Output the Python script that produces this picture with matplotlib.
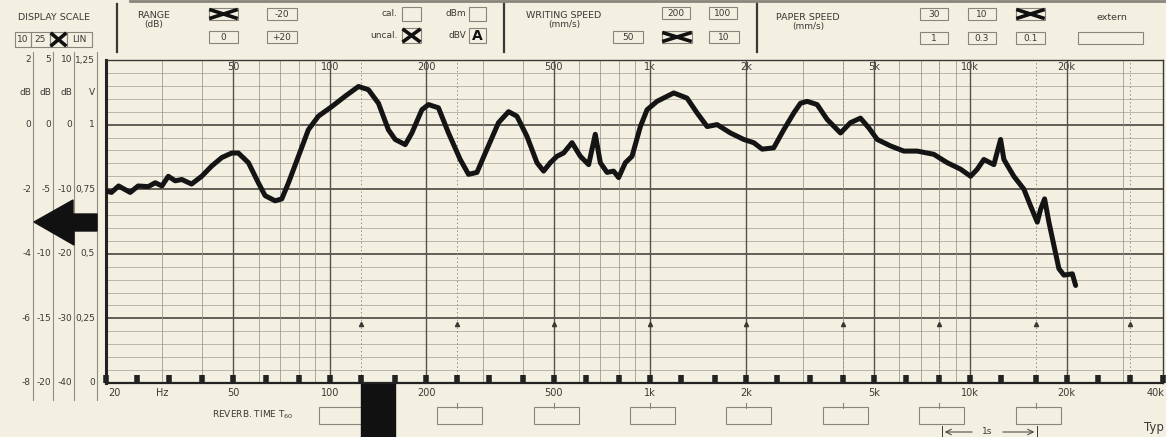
"""Level recorder chart: frequency response on B&K style log paper."""

import matplotlib.pyplot as plt
import numpy as np
from matplotlib.patches import Rectangle, Polygon
from matplotlib.transforms import blended_transform_factory

PAPER = "#f3efe1"
INK = "#3a3935"
GRID = "#8f8c82"
BOX = "#8a857a"

freq_hz = [20.1, 20.8, 21.9, 23.8, 25.2, 27.1, 28.5, 29.9, 31.3, 32.9, 34.5, 37.0,
           39.8, 42.8, 46.0, 49.4, 51.8, 55.7, 59.8, 62.8, 67.5, 70.8, 74.3, 79.8,
           85.7, 92.1, 101.5, 111.7, 122.9, 132.0, 141.9, 152.4, 160, 172, 180.4,
           193.9, 203.3, 218.4, 234.8, 255.4, 271.2, 288.1, 309.6, 336.4, 361.6,
           384.0, 412.6, 443.6, 465.2, 488.2, 512.2, 537.2, 570.6, 605.8, 643.2,
           674.6, 699.6, 734.2, 769.6, 798, 837.4, 878.8, 933, 979, 1052, 1186,
           1305, 1403, 1508, 1620, 1783, 1962, 2108, 2240, 2434, 2616, 2812, 2950,
           3096, 3326, 3574, 3934, 4227, 4542, 4822, 5124, 5637, 6202, 6830, 7696,
           8478, 9330, 10024, 10520, 11032, 11854, 12440, 12740, 13684, 14712,
           15436, 16196, 16588, 17072, 17610, 18254, 18922, 19618, 20840, 21340]
level_db = [-10.3, -10.5, -9.5, -10.5, -9.5, -9.6, -9.0, -9.5, -8.0, -8.7, -8.5, -9.2,
            -8.0, -6.4, -5.1, -4.4, -4.4, -5.9, -9.0, -11.0, -11.8, -11.5, -9.0, -4.9,
            -0.8, 1.3, 2.8, 4.4, 5.9, 5.4, 3.3, -0.8, -2.3, -3.1, -1.3,
            2.3, 3.1, 2.6, -1.3, -5.4, -7.7, -7.4, -3.8, 0.3, 2.0,
            1.3, -1.8, -5.9, -7.2, -5.9, -4.9, -4.4, -2.8, -4.9, -6.2,
            -1.5, -5.9, -7.4, -7.2, -8.2, -5.9, -4.9, -0.3, 2.3, 3.6, 4.9,
            4.1, 1.8, -0.3, 0.0, -1.3, -2.3, -2.8, -3.8, -3.6, -0.8, 1.8, 3.3,
            3.6, 3.1, 0.8, -1.3, 0.3, 1.0, -0.5, -2.3, -3.3, -4.1, -4.1, -4.6,
            -5.9, -6.9, -8.0, -6.9, -5.4, -6.2, -2.3, -5.4, -8.0, -10.0,
            -12.6, -15.1, -13.1, -11.5, -15.1, -18.7, -22.3, -23.3, -23.1, -24.9]

major_freqs = [20, 50, 100, 200, 500, 1000, 2000, 5000, 10000, 20000]
octave_freqs = [125, 250, 500, 1000, 2000, 4000, 8000, 16000, 31500]
third_octave_freqs = [20, 25, 31.5, 40, 50, 63, 80, 100, 125, 160, 200, 250, 315,
                      400, 500, 630, 800, 1000, 1250, 1600, 2000, 2500, 3150, 4000,
                      5000, 6300, 8000, 10000, 12500, 16000, 20000, 25000, 31500, 40000]
reverb_freqs = [250, 500, 1000, 2000, 4000, 8000, 16000]
top_ticks = [50, 100, 200, 500, 1000, 2000, 5000, 10000, 20000]
top_labels = ["50", "100", "200", "500", "1k", "2k", "5k", "10k", "20k"]
bottom_ticks = [50, 100, 200, 500, 1000, 2000, 5000, 10000, 20000]
bottom_labels = ["50", "100", "200", "500", "1k", "2k", "5k", "10k", "20k"]

scale_db = [10, 0, -10, -20, -30, -40]
col_10 = ["2", "0", "-2", "-4", "-6", "-8"]
col_25 = ["5", "0", "-5", "-10", "-15", "-20"]
col_50 = ["10", "0", "-10", "-20", "-30", "-40"]
col_lin = ["1,25", "1", "0,75", "0,5", "0,25", "0"]

W, H = 1166, 437
fig = plt.figure(figsize=(W / 100, H / 100), dpi=100, facecolor=PAPER)

# pixel-coordinate layer for the printed form
deco = fig.add_axes([0, 0, 1, 1])
deco.set_xlim(0, W)
deco.set_ylim(H, 0)
deco.axis("off")
deco.set_facecolor(PAPER)

ax = fig.add_axes([106 / W, (H - 383) / H, (1163 - 106) / W, 323 / H])
ax.set_facecolor("none")
ax.set_xscale("log")
ax.set_xlim(20, 40000)
ax.set_ylim(-40, 10)
ax.set_xticks([])
ax.set_yticks([])
ax.minorticks_off()
for side in ["top", "right"]:
    ax.spines[side].set_color(INK)
    ax.spines[side].set_linewidth(1.0)
ax.spines["left"].set_linewidth(2.2)
ax.spines["bottom"].set_linewidth(1.6)
ax.spines["left"].set_color("#222")
ax.spines["bottom"].set_color("#222")

# horizontal grid
for db in np.arange(-38, 10, 2):
    if db % 10 == 0:
        ax.axhline(db, color="#55534d", lw=1.3, zorder=1)
    else:
        ax.axhline(db, color=GRID, lw=0.5, alpha=0.8, zorder=1)

# vertical grid
for dec in [10, 100, 1000, 10000]:
    for m in range(2, 10):
        f = m * dec
        if 20 < f < 40000 and f not in major_freqs:
            ax.axvline(f, color=GRID, lw=0.6, alpha=0.85, zorder=1)
for f in major_freqs[1:]:
    ax.axvline(f, color="#55534d", lw=1.0, zorder=1)
for f in [125, 250, 4000, 8000, 16000, 31500]:
    ax.axvline(f, color=GRID, lw=0.7, ls=(0, (1.5, 2.5)), zorder=1)
ax.plot(octave_freqs, [-30.9] * len(octave_freqs), "^", ms=3, color=INK, zorder=2)

# third-octave marks on the base line
ax.vlines(third_octave_freqs, -40, -38.8, colors="#222", lw=4, zorder=3, clip_on=False)

ax.plot(freq_hz, level_db, color="#141414", lw=3.6, solid_joinstyle="round",
        solid_capstyle="round", zorder=4)

xt = blended_transform_factory(ax.transData, deco.transData)
yt = blended_transform_factory(deco.transData, ax.transData)

for f, lab in zip(top_ticks, top_labels):
    deco.text(f, 67, lab, transform=xt, ha="center", va="center", fontsize=7, color=INK)
deco.text(108, 393, "20", ha="left", va="center", fontsize=7, color=INK)
deco.text(162, 393, "Hz", ha="center", va="center", fontsize=7, color=INK)
for f, lab in zip(bottom_ticks, bottom_labels):
    deco.text(f, 393, lab, transform=xt, ha="center", va="center", fontsize=7, color=INK)
deco.text(1164, 393, "40k", ha="right", va="center", fontsize=7, color=INK)

# black block under 125-160 Hz
deco.add_patch(Rectangle((125, 383), 160 - 125, 60, transform=xt, color="#111", zorder=6))

# reverb time boxes
deco.text(212, 415, "REVERB. TIME T$_{60}$", ha="left", va="center", fontsize=6.5, color=INK)
deco.add_patch(Rectangle((319, 407), 50, 17, fill=False, ec=BOX, lw=0.8))
for f in reverb_freqs:
    deco.add_patch(Rectangle((f * 0.866, 407), f * (1.197 - 0.866), 17, transform=xt,
                             fill=False, ec=BOX, lw=0.8))
    deco.plot([f, f], [403, 408], transform=xt, color=BOX, lw=0.8)
deco.annotate("", xy=(942, 432), xytext=(975, 432),
              arrowprops=dict(arrowstyle="->", color=INK, lw=0.7))
deco.annotate("", xy=(1037, 432), xytext=(1000, 432),
              arrowprops=dict(arrowstyle="->", color=INK, lw=0.7))
deco.plot([942, 942], [426, 437], color=INK, lw=0.7)
deco.plot([1037, 1037], [426, 437], color=INK, lw=0.7)
deco.text(987, 432, "1s", ha="center", va="center", fontsize=6.5, color=INK)
deco.text(1164, 428, "Typ", ha="right", va="center", fontsize=8.5, color=INK)

# left scale columns
for x in [33, 53, 74, 97]:
    deco.plot([x, x], [52, 400], color=GRID, lw=0.8)
for col, xr in zip([col_10, col_25, col_50, col_lin], [31, 51, 72, 95]):
    for db, lab in zip(scale_db, col):
        deco.text(xr, db, lab, transform=yt, ha="right", va="center", fontsize=6.5, color=INK)
for xr, u in zip([31, 51, 72, 95], ["dB", "dB", "dB", "V"]):
    deco.text(xr, 5, u, transform=yt, ha="right", va="center", fontsize=6.5, color=INK)
deco.add_patch(Polygon([(34, 222), (73, 200), (73, 214), (97, 214), (97, 231),
                        (74, 231), (74, 245)], closed=True, color="#111", zorder=5))


def box(x0, x1, y0, y1, label=None, cross=False):
    deco.add_patch(Rectangle((x0, y0), x1 - x0, y1 - y0, fill=False, ec=BOX, lw=0.8))
    if label:
        deco.text((x0 + x1) / 2, (y0 + y1) / 2 + 0.5, label, ha="center", va="center",
                  fontsize=6.5, color=INK)
    if cross:
        deco.plot([x0 + 2, x1 - 2], [y0 + 2, y1 - 2], color="#111", lw=2.6)
        deco.plot([x0 + 2, x1 - 2], [y1 - 2, y0 + 2], color="#111", lw=2.6)


# header
deco.plot([130, W], [1, 1], color=BOX, lw=2)
for x in [117, 504, 757]:
    deco.plot([x, x], [4, 52], color=INK, lw=1.6)
deco.text(18, 18, "DISPLAY SCALE", ha="left", va="center", fontsize=6.8, color=INK)
box(15, 31, 32, 47, "10")
box(31, 50, 32, 47, "25")
box(50, 67, 32, 47, cross=True)
box(67, 92, 32, 47, "LIN")

deco.text(154, 16, "RANGE", ha="center", va="center", fontsize=6.8, color=INK)
deco.text(154, 25, "(dB)", ha="center", va="center", fontsize=6.5, color=INK)
box(209, 238, 8, 20, cross=True)
box(267, 297, 8, 20, "-20")
box(209, 238, 31, 43, "0")
box(267, 297, 31, 43, "+20")

deco.text(398, 13, "cal.", ha="right", va="center", fontsize=6.5, color=INK)
box(402, 421, 7, 21)
deco.text(466, 13, "dBm", ha="right", va="center", fontsize=6.5, color=INK)
box(469, 486, 7, 21)
deco.text(398, 36, "uncal.", ha="right", va="center", fontsize=6.5, color=INK)
box(402, 421, 28, 43, cross=True)
deco.text(466, 36, "dBV", ha="right", va="center", fontsize=6.5, color=INK)
box(469, 486, 28, 43)
deco.text(477.5, 36, "A", ha="center", va="center", fontsize=10, fontweight="bold", color="#111")

deco.text(564, 16, "WRITING SPEED", ha="center", va="center", fontsize=6.8, color=INK)
deco.text(564, 25, "(mm/s)", ha="center", va="center", fontsize=6.5, color=INK)
box(662, 690, 7, 19, "200")
box(709, 737, 7, 19, "100")
box(613, 643, 31, 43, "50")
box(662, 692, 31, 43, cross=True)
box(709, 739, 31, 43, "10")

deco.text(808, 17, "PAPER SPEED", ha="center", va="center", fontsize=6.8, color=INK)
deco.text(808, 26, "(mm/s)", ha="center", va="center", fontsize=6.5, color=INK)
box(920, 948, 8, 20, "30")
box(968, 996, 8, 20, "10")
box(1016, 1045, 8, 20, cross=True)
box(920, 948, 32, 44, "1")
box(968, 996, 32, 44, "0.3")
box(1016, 1045, 32, 44, "0.1")
deco.text(1112, 17, "extern", ha="center", va="center", fontsize=6.8, color=INK)
box(1078, 1143, 32, 44)

fig.savefig("out.png", dpi=100, facecolor=PAPER)
